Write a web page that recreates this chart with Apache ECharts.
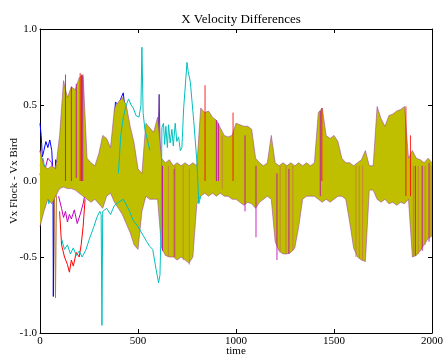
<!DOCTYPE html>
<html>
<head>
<meta charset="utf-8">
<script src="https://cdn.jsdelivr.net/npm/echarts@6/dist/echarts.min.js"></script>
<style>
  html, body { margin: 0; padding: 0; background: #fff; }
  #chart { width: 443px; height: 358px; }
</style>
</head>
<body>
<div id="chart"></div>
<script>
// time samples of the dense band (every 20 steps)
const times = [0,20,40,60,80,100,120,140,160,180,200,220,240,260,280,300,320,340,360,380,
  400,420,440,460,480,500,520,540,560,580,600,620,640,660,680,700,720,740,760,780,
  800,820,840,860,880,900,920,940,960,980,1000,1020,1040,1060,1080,1100,1120,1140,1160,1180,
  1200,1220,1240,1260,1280,1300,1320,1340,1360,1380,1400,1420,1440,1460,1480,1500,1520,1540,1560,1580,
  1600,1620,1640,1660,1680,1700,1720,1740,1760,1780,1800,1820,1840,1860,1880,1900,1920,1940,1960,1980,2000]
// upper / lower edge of the yellow mass
const bandTop = [0.2,0.1,0.08,0.1,0.08,0.3,0.66,0.55,0.62,0.6,0.68,0.7,0.15,0.12,0.1,0.18,0.3,0.28,0.22,0.48,
  0.52,0.55,0.5,0.36,0.25,0.08,0.05,0.38,0.35,0.32,0.42,0.15,0.12,0.14,0.1,0.12,0.1,0.12,0.1,0.12,
  0.1,0.48,0.45,0.46,0.42,0.4,0.35,0.3,0.29,0.3,0.38,0.37,0.36,0.36,0.34,0.15,0.12,0.1,0.12,0.3,
  0.12,0.1,0.12,0.1,0.12,0.1,0.12,0.1,0.12,0.1,0.12,0.45,0.48,0.3,0.28,0.3,0.26,0.15,0.12,0.12,
  0.1,0.12,0.14,0.2,0.1,0.1,0.49,0.41,0.36,0.43,0.44,0.46,0.47,0.49,0.15,0.2,0.15,0.14,0.12,0.15,0.12]
const bandBottom = [-0.3,-0.2,-0.12,-0.15,-0.1,-0.05,-0.04,-0.05,-0.05,-0.06,-0.08,-0.1,-0.12,-0.14,-0.12,-0.15,-0.18,-0.1,-0.08,-0.14,
  -0.18,-0.22,-0.28,-0.34,-0.42,-0.45,-0.2,-0.1,-0.12,-0.12,-0.12,-0.44,-0.49,-0.5,-0.5,-0.52,-0.5,-0.52,-0.54,-0.5,
  -0.15,-0.1,-0.08,-0.1,-0.08,-0.1,-0.08,-0.1,-0.1,-0.12,-0.12,-0.14,-0.16,-0.14,-0.15,-0.18,-0.14,-0.12,-0.1,-0.12,
  -0.4,-0.46,-0.48,-0.48,-0.47,-0.44,-0.3,-0.12,-0.1,-0.1,-0.1,-0.12,-0.14,-0.12,-0.14,-0.12,-0.1,-0.1,-0.12,-0.27,
  -0.44,-0.5,-0.52,-0.53,-0.06,-0.06,-0.12,-0.14,-0.12,-0.15,-0.14,-0.16,-0.14,-0.15,-0.12,-0.5,-0.49,-0.46,-0.42,-0.38,-0.36]

// single agents that stick out of the mass: [time, value]
const cyanHigh = [[400,0.05],[412,0.3],[425,0.42],[440,0.5],[452,0.54],[465,0.5],[476,0.48],[490,0.43],[505,0.42],
  [515,0.5],[520,0.88],[526,0.45],[535,0.34],[548,0.27],[560,0.2]]
const cyanLow = [[110,-0.38],[125,-0.45],[140,-0.42],[155,-0.48],[170,-0.44],[185,-0.49],[200,-0.46],[215,-0.5],
  [235,-0.45],[255,-0.37],[275,-0.3],[290,-0.24],[305,-0.2],[312,-0.22],[316,-0.95],[320,-0.2],[340,-0.18],
  [360,-0.22],[380,-0.16],[400,-0.14],[425,-0.12],[450,-0.18],[476,-0.26],[500,-0.3],[527,-0.36],[545,-0.4],
  [560,-0.43],[575,-0.45],[592,-0.58],[605,-0.67],[612,-0.62],[618,-0.3],[622,0.35],[630,0.38],[636,0.24],
  [642,0.36],[650,0.22],[656,0.37],[664,0.25],[673,0.34],[680,0.23],[690,0.38],[698,0.26],[707,0.29],
  [716,0.2],[724,0.22],[733,0.48],[750,0.78],[756,0.72],[767,0.65],[784,0.4],[801,0.12],[810,-0.15],[820,-0.1]]
const redLow = [[100,-0.2],[110,-0.42],[125,-0.5],[140,-0.55],[150,-0.6],[160,-0.52],[170,-0.56],[185,-0.47],
  [200,-0.5],[210,-0.42],[220,-0.3],[230,-0.12]]
const magentaLow = [[95,-0.1],[110,-0.18],[120,-0.24],[130,-0.2],[140,-0.27],[150,-0.22],[160,-0.25],[175,-0.19],
  [190,-0.28],[205,-0.22],[220,-0.15],[235,-0.05]]
const blueStart = [[0,0.38],[6,0.3],[12,0.16],[20,0.2],[30,0.26],[40,0.22],[50,0.27],[60,0.2],[66,0.05],[68,-0.76],
  [72,-0.1],[80,0.14],[95,0.1]]
const brownDrop = [[74,-0.1],[79,-0.77],[84,-0.1]]
const greenStart = [[0,0.05],[10,-0.02],[20,0.1],[30,0.05],[40,-0.05],[55,0.08],[70,0.0],[90,0.05]]
const cyanStart = [[0,0.1],[15,0.15],[30,0.05],[45,-0.15],[60,-0.05],[80,0.1],[100,-0.05]]
const magentaStart = [[0,0.2],[20,0.05],[40,0.15],[60,0.12],[80,-0.1],[100,0.2]]
const blueEdge = [[370,0.2],[385,0.52],[400,0.5],[415,0.55],[425,0.58],[435,0.45],[445,0.35]]
const purpleSpike = [[600,0.1],[608,0.57],[614,0.1]]

// vertical streaks of other colours inside the mass: [time, low, high]
const streakMagenta = [[130,0.0,0.7],[185,0.02,0.64],[212,0.0,0.7],[218,0.0,0.69],[625,-0.46,0.1],[685,-0.5,0.08],
  [900,0.0,0.4],[910,0.0,0.38],[1046,-0.2,0.3],[1102,-0.37,0.1],[1209,-0.52,0.05],[1270,-0.48,0.08],
  [1430,-0.1,0.46],[1915,-0.49,0.1],[1950,-0.46,0.1],[1985,-0.4,0.12]]
const streakRed = [[160,0.0,0.62],[205,0.0,0.71],[842,0.0,0.63],[985,0.0,0.45],[1438,0.0,0.48],[1867,-0.1,0.49],[1890,-0.1,0.3]]
const streakBrown = [[655,-0.5,0.1],[689,-0.5,0.1],[731,-0.52,0.1],[762,-0.55,0.08],[930,-0.05,0.3],[1225,-0.47,0.1],
  [1255,-0.48,0.1],[1290,-0.46,0.1],[1612,-0.5,0.1],[1629,-0.51,0.1],[1646,-0.52,0.1],[1905,-0.5,0.1],
  [1930,-0.48,0.1],[1965,-0.42,0.1],[1995,-0.37,0.1]]

const xTicks = [0, 500, 1000, 1500, 2000]
const yTicks = [-1.0, -0.5, 0.0, 0.5, 1.0]

const font = 'Liberation Serif'
const YEL = '#bfbf00'

function line(data, color, z) {
  return { type: 'line', data: data, symbol: 'none', z: z || 2, animation: false,
    lineStyle: { color: color, width: 1 } }
}
// yellow mass, outlined by the mixed colours of the agents at its edge
function area(data) {
  return { type: 'line', data: data, symbol: 'none', z: 3, animation: false,
    lineStyle: { color: '#9a40a0', width: 1, opacity: 0.55 }, areaStyle: { color: YEL, opacity: 1 } }
}
function streaks(data, color) {
  return {
    type: 'custom', data: data, z: 4, animation: false,
    renderItem: function (params, api) {
      const a = api.coord([api.value(0), api.value(1)])
      const b = api.coord([api.value(0), api.value(2)])
      return { type: 'line', shape: { x1: a[0], y1: a[1], x2: b[0], y2: b[1] },
        style: { stroke: color, lineWidth: 1, opacity: 0.85 } }
    }
  }
}

const axisText = { color: '#000', fontFamily: font, fontSize: 11 }
const frame = { show: true, onZero: false, lineStyle: { color: '#000', width: 1 } }
const tick = { show: true, inside: true, length: 4, lineStyle: { color: '#000' } }

let chart = echarts.init(document.getElementById('chart'))
chart.setOption({
  animation: false,
  title: {
    text: 'X Velocity Differences', left: 236, top: 8, textAlign: 'center',
    textStyle: { fontFamily: font, fontSize: 13, fontWeight: 'normal', color: '#000' }
  },
  grid: { left: 40, right: 11, top: 29, bottom: 25, outerBoundsMode: 'none', containLabel: false },
  xAxis: [
    { type: 'value', min: 0, max: 2000, interval: 500, name: 'time', nameLocation: 'middle', nameGap: 13,
      nameMoveOverlap: false,
      nameTextStyle: axisText, axisLine: frame, axisTick: tick, splitLine: { show: false },
      axisLabel: Object.assign({ margin: 3, formatter: v => String(v) }, axisText) },
    { type: 'value', position: 'top', min: 0, max: 2000, interval: 500,
      axisLine: frame, axisTick: tick, axisLabel: { show: false }, splitLine: { show: false } }
  ],
  yAxis: [
    { type: 'value', min: -1, max: 1, interval: 0.5, name: 'Vx Flock - Vx Bird', nameLocation: 'middle', nameGap: 20,
      nameMoveOverlap: false,
      nameTextStyle: axisText, axisLine: frame, axisTick: tick, splitLine: { show: false },
      axisLabel: Object.assign({ margin: 3, formatter: v => v.toFixed(1) }, axisText) },
    { type: 'value', position: 'right', min: -1, max: 1, interval: 0.5,
      axisLine: frame, axisTick: tick, axisLabel: { show: false }, splitLine: { show: false } }
  ],
  series: [
    line(blueStart, '#0000ff'),
    line(brownDrop, '#b87838'),
    line(greenStart, '#008000'),
    line(cyanStart, '#00bfbf'),
    line(magentaStart, '#bf00bf'),
    line(redLow, '#ff0000'),
    line(magentaLow, '#bf00bf'),
    line(blueEdge, '#0000ff'),
    line(purpleSpike, '#6030a0'),
    area(times.map((t, i) => [t, bandTop[i]])),
    area(times.map((t, i) => [t, bandBottom[i]])),
    streaks(streakMagenta, '#bf00bf'),
    streaks(streakRed, '#ff0000'),
    streaks(streakBrown, '#c87a46'),
    line(cyanHigh, '#00bfbf', 5),
    line(cyanLow, '#00bfbf', 5)
  ]
})
window.addEventListener('resize', () => { chart.resize() })
</script>
</body>
</html>
